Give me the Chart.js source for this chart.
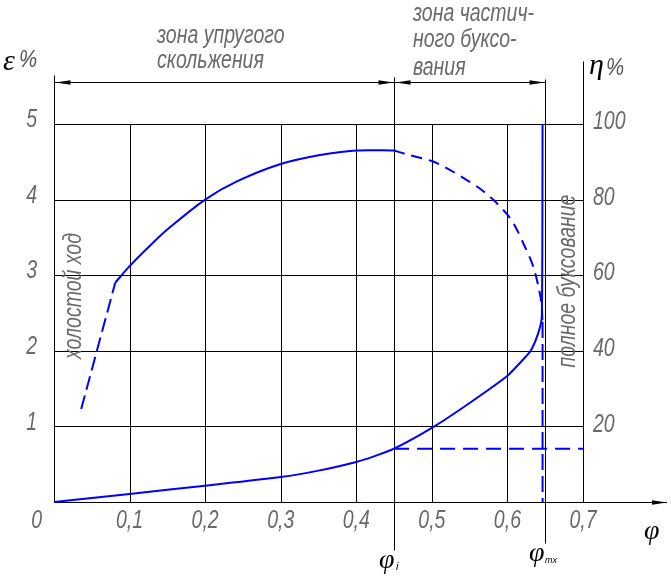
<!DOCTYPE html>
<html>
<head>
<meta charset="utf-8">
<script src="https://cdn.jsdelivr.net/npm/chart.js@4.4.1/dist/chart.umd.min.js"></script>
<style>
  body { margin: 0; background: #fff; }
  #wrap { width: 671px; height: 578px; }
</style>
</head>
<body>
<div id="wrap"><canvas id="chart" width="671" height="578"></canvas></div>
<script>
// slip curve epsilon % vs phi (solid, turns vertical at full slip)
const phiSlip = [0, 0.1, 0.2, 0.3, 0.35, 0.4, 0.4225, 0.45, 0.5, 0.55, 0.6, 0.625, 0.632, 0.641, 0.6455, 0.6465];
const slipVals = [0, 0.106, 0.216, 0.33, 0.415, 0.53, 0.6, 0.705, 0.98, 1.31, 1.67, 1.93, 2.02, 2.24, 2.45, 5];

// efficiency eta % (right axis)
const phiIdle = [0.036, 0.081];
const etaIdle = [24.6, 58];
const phiElastic = [0.081, 0.1, 0.131, 0.153, 0.2, 0.242, 0.3, 0.352, 0.4, 0.45];
const etaElastic = [58, 62.4, 68.6, 72.6, 80, 84.8, 89.4, 91.8, 93, 93];
const phiPartial = [0.45, 0.466, 0.5, 0.519, 0.541, 0.563, 0.581, 0.6, 0.61, 0.623, 0.634, 0.641, 0.645, 0.6465];
const etaPartial = [93, 92, 90.2, 88.4, 85.8, 83, 80, 76, 73, 67.6, 62.4, 57, 52.6, 47.6];
const phiFull = [0.6465, 0.6465];
const etaFull = [47.6, 0];

// slip level at phi_i, carried to the right
const phiLevel = [0.45, 0.7];
const slipLevel = [0.705, 0.705];

// ticks
const phiTicks = [0.1, 0.2, 0.3, 0.4, 0.5, 0.6, 0.7];
const phiTickLabels = ["0,1", "0,2", "0,3", "0,4", "0,5", "0,6", "0,7"];
const slipTicks = [1, 2, 3, 4, 5];
const etaTicks = [20, 40, 60, 80, 100];
const phiI = 0.45;
const phiMax = 0.65;

const BLUE = "#0000ff";

function pts(xs, ys) {
  return xs.map((v, i) => ({ x: v, y: ys[i] }));
}

function hline(ctx, x1, x2, y) {
  ctx.beginPath(); ctx.moveTo(x1, y); ctx.lineTo(x2, y); ctx.stroke();
}
function vline(ctx, x, y1, y2) {
  ctx.beginPath(); ctx.moveTo(x, y1); ctx.lineTo(x, y2); ctx.stroke();
}
// narrow filled arrowhead, dir = 1 points right, -1 points left
function arrow(ctx, tipX, y, dir) {
  ctx.beginPath();
  ctx.moveTo(tipX, y);
  ctx.lineTo(tipX - dir * 15, y - 2.2);
  ctx.lineTo(tipX - dir * 15, y + 2.2);
  ctx.closePath();
  ctx.fill();
}

function text(ctx, str, x, y, o) {
  o = o || {};
  ctx.save();
  ctx.translate(x, y);
  if (o.rotate) ctx.rotate(o.rotate);
  ctx.scale(o.sx || 0.75, 1);
  ctx.font = o.font || 'italic 26px "Liberation Sans"';
  ctx.fillStyle = o.color || "#6a6a6a";
  ctx.textAlign = o.align || "left";
  ctx.textBaseline = o.base || "alphabetic";
  ctx.fillText(str, 0, 0);
  ctx.restore();
}

const drawingPlugin = {
  id: "drawing",
  beforeDatasetsDraw(chart) {
    const { ctx, scales } = chart;
    const px = v => Math.round(scales.x.getPixelForValue(v)) + 0.5;
    const py = v => Math.round(scales.y.getPixelForValue(v)) + 0.5;
    ctx.save();
    ctx.strokeStyle = "#000";
    ctx.fillStyle = "#000";
    ctx.lineWidth = 1;

    // grid
    phiTicks.forEach(v => vline(ctx, px(v), py(0), py(5)));
    slipTicks.forEach(v => hline(ctx, px(0), px(0.7), py(v)));

    // axes
    vline(ctx, px(0), py(5.65), py(0));
    vline(ctx, px(0.7), py(5.83), py(0));
    hline(ctx, px(0), 667, py(0));
    arrow(ctx, 667, py(0), 1);

    // phi_i and phi_max marks
    vline(ctx, px(phiI), py(5.62), py(-0.64));
    vline(ctx, px(phiMax), py(5.6), py(-0.54));

    // zone dimension line
    const dy = py(5.55);
    hline(ctx, px(0), px(phiMax), dy);
    arrow(ctx, px(0) + 1, dy, -1);
    arrow(ctx, px(phiI) - 1, dy, 1);
    arrow(ctx, px(phiI) + 1, dy, -1);
    arrow(ctx, px(phiMax) - 1, dy, 1);
    ctx.restore();
  },
  afterDraw(chart) {
    const { ctx, scales } = chart;
    const x = scales.x, y = scales.y, y2 = scales.y2;

    // tick labels
    text(ctx, "0", 42, 528, { align: "right" });
    phiTickLabels.forEach((t, i) => {
      text(ctx, t, x.getPixelForValue(phiTicks[i]), 528, { align: "center" });
    });
    slipTicks.forEach(v => {
      text(ctx, String(v), 37, y.getPixelForValue(v) - 4, { align: "right", base: "middle" });
    });
    etaTicks.forEach(v => {
      text(ctx, String(v), 593, y2.getPixelForValue(v) - 2, { base: "middle" });
    });

    // axis titles
    text(ctx, "\u03b5", 3, 70, { font: 'italic 30px "Liberation Serif"', color: "#000", sx: 1 });
    text(ctx, "%", 19, 67, { font: 'italic 24px "Liberation Sans"', color: "#555", sx: 0.85 });
    text(ctx, "\u03b7", 589, 74, { font: 'italic 30px "Liberation Serif"', color: "#000", sx: 1 });
    text(ctx, "%", 606, 75, { font: 'italic 24px "Liberation Sans"', color: "#555", sx: 0.85 });
    text(ctx, "\u03c6", 644, 539, { font: 'italic 28px "Liberation Serif"', color: "#000", sx: 1 });
    text(ctx, "\u03c6", 379, 568, { font: 'italic 28px "Liberation Serif"', color: "#000", sx: 1 });
    text(ctx, "i", 396, 570, { font: 'italic 11px "Liberation Sans"', color: "#000", sx: 1 });
    text(ctx, "\u03c6", 529, 561, { font: 'italic 28px "Liberation Serif"', color: "#000", sx: 1 });
    text(ctx, "mx", 545, 563, { font: 'italic 9px "Liberation Sans"', color: "#000", sx: 1 });

    // zone captions
    text(ctx, "зона упругого", 157, 43);
    text(ctx, "скольжения", 157, 68);
    text(ctx, "зона частич-", 413, 21);
    text(ctx, "ного буксо-", 413, 47);
    text(ctx, "вания", 413, 75);

    text(ctx, "холостой ход", 81, 296, { rotate: -Math.PI / 2, align: "center" });
    text(ctx, "полное буксование", 575, 281, { rotate: -Math.PI / 2, align: "center" });
  }
};

new Chart(document.getElementById("chart"), {
  type: "line",
  data: {
    datasets: [
      { data: pts(phiSlip, slipVals), yAxisID: "y", borderColor: BLUE, borderWidth: 2, tension: 0.2 },
      { data: pts(phiIdle, etaIdle), yAxisID: "y2", borderColor: BLUE, borderWidth: 2, borderDash: [14, 6] },
      { data: pts(phiElastic, etaElastic), yAxisID: "y2", borderColor: BLUE, borderWidth: 2, tension: 0.3 },
      { data: pts(phiPartial, etaPartial), yAxisID: "y2", borderColor: BLUE, borderWidth: 2, borderDash: [11, 7], tension: 0.3 },
      { data: pts(phiFull, etaFull), yAxisID: "y2", borderColor: BLUE, borderWidth: 2, borderDash: [16, 6] },
      { data: pts(phiLevel, slipLevel), yAxisID: "y", borderColor: BLUE, borderWidth: 2, borderDash: [15, 8] }
    ]
  },
  options: {
    responsive: false,
    animation: false,
    layout: { padding: { left: 54, right: 88, top: 124, bottom: 76 } },
    elements: { point: { radius: 0 }, line: { fill: false } },
    datasets: { line: { clip: false } },
    plugins: { legend: { display: false }, tooltip: { enabled: false } },
    scales: {
      x: { type: "linear", min: 0, max: 0.7, display: false },
      y: { type: "linear", min: 0, max: 5, display: false },
      y2: { type: "linear", min: 0, max: 100, display: false, position: "right" }
    }
  },
  plugins: [drawingPlugin]
});
</script>
</body>
</html>
